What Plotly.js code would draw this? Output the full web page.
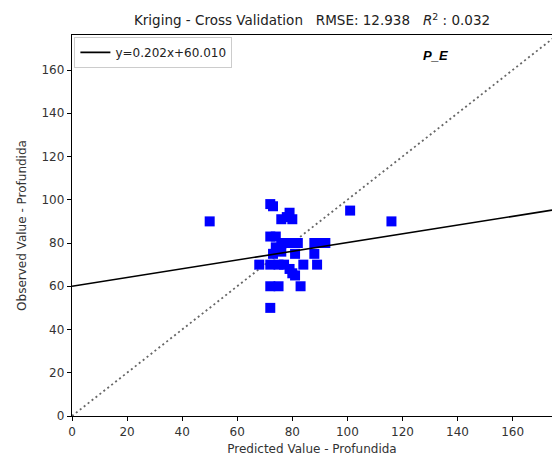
<!DOCTYPE html>
<html>
<head>
<meta charset="utf-8">
<script src="https://cdn.plot.ly/plotly-3.0.1.min.js"></script>
<style>html,body{margin:0;padding:0;background:#fff;}#chart{width:552px;height:458px;}</style>
</head>
<body>
<div id="chart"></div>
<script>
// Predicted vs observed (Profundida)
const predicted = [50, 72, 73, 76, 78, 79, 80, 101, 116, 72, 74, 76, 78, 80, 82, 88, 90, 92, 74, 76, 81, 88, 73, 68, 72, 75, 77, 79, 80, 84, 89, 81, 72, 75, 83, 72];
const observed  = [90, 98, 97, 91, 92, 94, 91, 95, 90, 83, 83, 80, 80, 80, 80, 80, 80, 80, 78, 76, 75, 75, 75, 70, 70, 70, 70, 68, 66, 70, 70, 65, 60, 60, 60, 50];
const slope = 0.202;
const intercept = 60.010;
const xTicks = [0, 20, 40, 60, 80, 100, 120, 140, 160];
const yTicks = [0, 20, 40, 60, 80, 100, 120, 140, 160];
const xMax = 174.3;
const yMax = 176.2;

const lineX = [0, xMax];
const lineY = lineX.map(v => slope * v + intercept);
const diagX = [0, Math.max(xMax, yMax)];
const diagY = diagX.slice();

const font = "DejaVu Sans, sans-serif";

const traces = [
  {x: diagX, y: diagY, mode: 'lines', line: {color: '#666', width: 1.8, dash: '2px,3px'}, showlegend: false, hoverinfo: 'skip'},
  {x: predicted, y: observed, mode: 'markers', marker: {symbol: 'square', size: 10, color: '#0000ff'}, showlegend: false, cliponaxis: false},
  {x: lineX, y: lineY, mode: 'lines', line: {color: '#000', width: 1.6}, name: 'y=' + slope.toFixed(3) + 'x+' + intercept.toFixed(3)}
];

const layout = {
  width: 552, height: 458,
  margin: {l: 72, r: 0, t: 35, b: 42, pad: 0},
  paper_bgcolor: '#fff', plot_bgcolor: '#fff',
  font: {family: font, size: 12, color: '#222'},
  title: {text: 'Kriging - Cross Validation   RMSE: 12.938   <i>R</i><sup>2</sup> : 0.032', font: {family: font, size: 13.5, color: '#222'}, x: 0.5, xref: 'paper', y: 0.955, yanchor: 'middle'},
  xaxis: {range: [0, xMax], tickvals: xTicks, ticktext: xTicks.map(String), ticks: 'outside', ticklen: 4, tickcolor: '#000', showgrid: false, zeroline: false, showline: true, linecolor: '#000', linewidth: 1.2, mirror: true,
    title: {text: 'Predicted Value - Profundida', font: {family: font, size: 12, color: '#333'}, standoff: 7}, tickfont: {size: 12, color: '#333'}},
  yaxis: {range: [0, yMax], tickvals: yTicks, ticktext: yTicks.map(String), ticks: 'outside', ticklen: 4, tickcolor: '#000', showgrid: false, zeroline: false, showline: true, linecolor: '#000', linewidth: 1.2,
    title: {text: 'Observed Value - Profundida', font: {family: font, size: 12, color: '#333'}, standoff: 12}, tickfont: {size: 12, color: '#333'}},
  legend: {x: 0.005, y: 0.995, xanchor: 'left', yanchor: 'top', bgcolor: '#fff', bordercolor: '#ccc', borderwidth: 1, font: {family: font, size: 12, color: '#222'}, itemwidth: 30},
  annotations: [{x: 132, y: 166.5, xref: 'x', yref: 'y', text: '<b><i>P_E</i></b>', showarrow: false, font: {family: 'Liberation Sans, Arial, sans-serif', size: 13, color: '#000'}}]
};

Plotly.newPlot('chart', traces, layout, {displayModeBar: false, staticPlot: true});
</script>
</body>
</html>
